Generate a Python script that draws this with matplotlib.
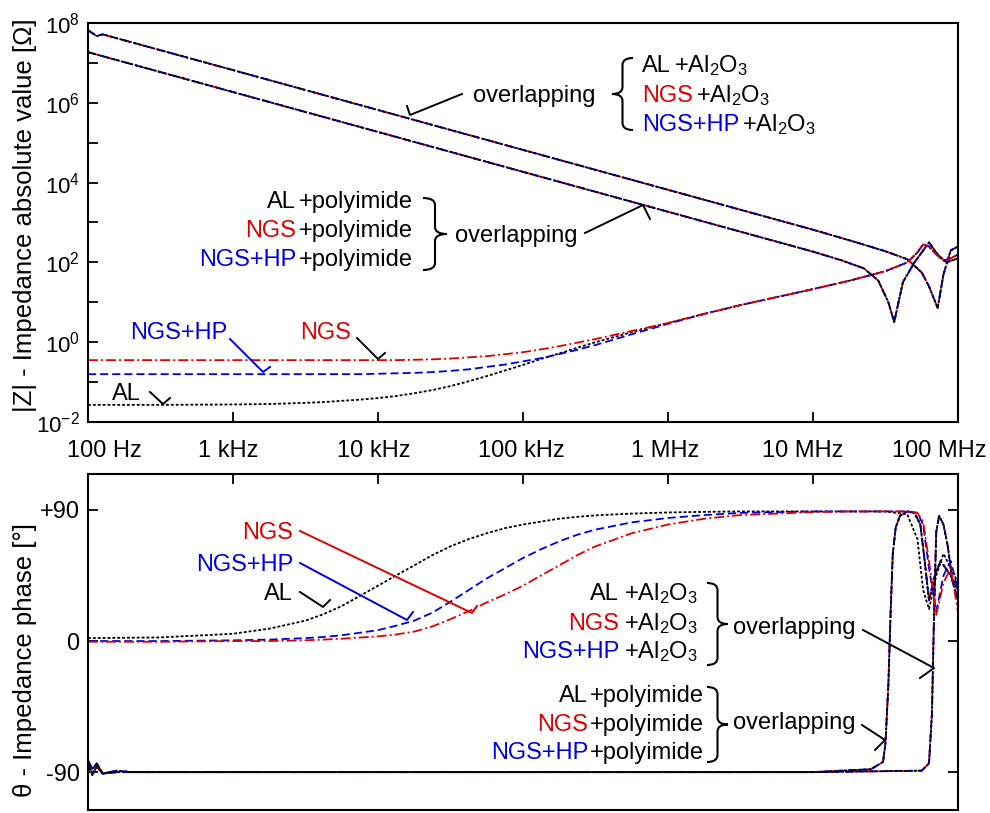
import numpy as np
import matplotlib
matplotlib.use('Agg')
import matplotlib.pyplot as plt
from matplotlib.path import Path
from matplotlib.patches import PathPatch
from matplotlib.lines import Line2D
from matplotlib.ticker import NullLocator

plt.rcParams['font.family'] = ['Liberation Sans', 'DejaVu Sans']
plt.rcParams['mathtext.fontset'] = 'custom'
plt.rcParams['mathtext.rm'] = 'Liberation Sans'
plt.rcParams['mathtext.it'] = 'Liberation Sans:italic'
plt.rcParams['mathtext.bf'] = 'Liberation Sans:bold'
plt.rcParams['mathtext.default'] = 'regular'

RED = '#dd0000'
BLUE = '#0000dd'
FS = 17

# ---------------- data ----------------
# bare electrodes: one frequency grid for |Z| and phase [Hz]
f_bare = [1e2, 3.16e2, 1e3, 1.78e3, 3.16e3, 4.22e3, 5.62e3, 7.5e3, 1e4, 1.33e4,
          1.78e4, 2.37e4, 3.16e4, 4.22e4, 5.62e4, 7.5e4, 1e5, 1.33e5, 1.78e5, 2.37e5,
          3.16e5, 5.62e5, 1e6, 1.78e6, 3.16e6, 1e7, 1.78e7, 3.16e7, 4.47e7, 5.25e7,
          5.75e7, 6.31e7, 7.08e7, 7.94e7, 8.91e7, 1e8]
z_al = [0.0269, 0.0269, 0.0275, 0.0282, 0.0302, 0.0316, 0.0339, 0.0363, 0.0398, 0.0447,
        0.0525, 0.0631, 0.0794, 0.105, 0.141, 0.195, 0.269, 0.380, 0.525, 0.724,
        1.0, 1.78, 3.02, 5.13, 8.51, 21.4, 34.7, 60.3, 100, 178,
        282, 251, 158, 112, 126, 158]
z_ngs = [0.355, 0.355, 0.355, 0.355, 0.355, 0.355, 0.355, 0.355, 0.355, 0.355,
         0.363, 0.372, 0.389, 0.417, 0.447, 0.501, 0.562, 0.661, 0.794, 0.977,
         1.20, 1.91, 3.02, 5.13, 8.51, 21.4, 34.7, 60.3, 100, 178,
         282, 251, 158, 112, 126, 158]
z_ngshp = [0.158, 0.158, 0.158, 0.158, 0.158, 0.158, 0.158, 0.158, 0.162, 0.166,
           0.170, 0.178, 0.191, 0.209, 0.240, 0.275, 0.331, 0.398, 0.501, 0.646,
           0.851, 1.58, 2.88, 5.13, 8.51, 21.4, 34.7, 60.3, 100, 178,
           282, 251, 158, 112, 126, 158]
ph_al = [2, 2.5, 5, 8.5, 14, 18.5, 24, 31, 38, 45,
         52, 59, 65, 70, 74, 77.5, 80, 82, 84, 85.3,
         86.3, 87.5, 88.3, 88.7, 89, 89, 89, 89, 87, 70,
         35, 22, 45, 60, 50, 40]
ph_ngs = [-0.5, -0.5, 0, 0, 0.5, 1, 1.6, 2.4, 3.2, 4.5,
          6.5, 10, 15, 20.5, 26.5, 32, 38, 45, 52, 59,
          65, 74, 80, 84, 86.5, 88.5, 89, 89, 89, 88,
          82, 55, 18, 40, 50, 20]
ph_ngshp = [0, 0, 0.5, 1, 2, 2.8, 4, 5.7, 7.5, 10.5,
            14, 19.5, 27, 35, 43, 50, 57, 63, 68.5, 73,
            76.5, 81.5, 84.5, 86.5, 88, 89, 89, 89, 89, 88,
            80, 50, 20, 45, 55, 35]

# insulated electrodes (AL, NGS, NGS+HP overlap)
f_z_al2o3 = [1e2, 1.15e2, 1.26e2, 1e3, 1e4, 1e5, 1e6, 1e7, 2e7, 3.16e7,
             4.47e7, 5.62e7, 6.31e7, 7.24e7, 7.94e7, 8.91e7, 1e8]
z_al2o3 = [6.6e7, 4.7e7, 5.2e7, 6.6e6, 6.6e5, 6.6e4, 6.6e3, 660, 316, 190,
           120, 56, 25, 7.2, 50, 200, 250]
f_z_pi = [1e2, 1e3, 1e4, 1e5, 1e6, 1e7, 1.58e7, 2.24e7, 2.82e7, 3.31e7,
          3.63e7, 4.17e7, 5.01e7, 6.31e7, 7.24e7, 8.32e7, 1e8]
z_pi = [1.86e7, 1.86e6, 1.86e5, 1.86e4, 1860, 186, 112, 71, 35, 10,
        3.2, 32, 100, 316, 158, 100, 126]

f_ph_al2o3 = [1e2, 1.07e2, 1.15e2, 1.26e2, 1.58e2, 2e2, 1e3, 1e5, 1e7, 5.62e7,
              6.31e7, 6.61e7, 6.84e7, 7.08e7, 7.41e7, 7.94e7, 8.51e7, 9.12e7, 1e8]
ph_al2o3 = [-84, -92, -86, -91, -89, -90, -90, -90, -90, -89,
            -84, -50, 20, 75, 86, 80, 65, 42, 28]
f_ph_pi = [1e2, 1.07e2, 1.15e2, 1.26e2, 1.58e2, 1e3, 1e5, 1e7, 2.51e7, 3.04e7,
           3.16e7, 3.31e7, 3.43e7, 3.55e7, 3.72e7, 3.98e7, 4.47e7, 5.01e7, 5.5e7,
           5.89e7, 6.31e7, 6.92e7, 7.59e7, 8.91e7, 1e8]
ph_pi = [-82, -88, -84, -91, -90, -90, -90, -90, -88, -83,
         -70, -30, 20, 60, 78, 86, 89, 88, 80,
         55, 28, 45, 55, 45, 35]

tick_f = [1e2, 1e3, 1e4, 1e5, 1e6, 1e7, 1e8]
tick_labels = ['100 Hz', '1 kHz', '10 kHz', '100 kHz', '1 MHz', '10 MHz', '100 MHz']
label_shift = [16, -5, -4, -2, -3, -10, -19]   # px, as placed in the original
z_exp = list(range(-2, 9))
ph_ticks = [-90, 0, 90]
ph_labels = ['-90', '0', '+90']

styles = {
    'AL': dict(color='black', ls=(0, (1.6, 1.1)), lw=1.3),
    'NGS': dict(color=RED, ls=(0, (5.5, 1.7, 1.1, 1.7)), lw=1.3),
    'NGS+HP': dict(color=BLUE, ls=(0, (4.5, 2.2)), lw=1.3),
}
colors = {'AL': 'black', 'NGS': RED, 'NGS+HP': BLUE}

W, H = 990, 813
fig = plt.figure(figsize=(W / 100, H / 100), dpi=100)
ax1 = fig.add_axes([88 / W, 1 - 422 / H, 870 / W, 399 / H])
ax2 = fig.add_axes([88 / W, 1 - 810 / H, 870 / W, 336 / H])

# ---------------- top: |Z| ----------------
for name in ['NGS', 'NGS+HP', 'AL']:
    ax1.plot(f_z_al2o3, z_al2o3, **styles[name])
    ax1.plot(f_z_pi, z_pi, **styles[name])
ax1.plot(f_bare, z_al, **styles['AL'])
ax1.plot(f_bare, z_ngshp, **styles['NGS+HP'])
ax1.plot(f_bare, z_ngs, **styles['NGS'])

ax1.set_xscale('log')
ax1.set_yscale('log')
ax1.set_xlim(1e2, 1e8)
ax1.set_ylim(1e-2, 1e8)
ax1.set_xticks(tick_f)
ax1.set_xticklabels([])
ax1.set_yticks([10.0 ** k for k in z_exp])
ax1.set_yticklabels(['$10^{%d}$' % k if k % 2 == 0 else '' for k in z_exp], fontsize=16)
ax1.xaxis.set_minor_locator(NullLocator())
ax1.yaxis.set_minor_locator(NullLocator())
ax1.tick_params(direction='in', length=7, width=1.3, pad=6)
for s in ax1.spines.values():
    s.set_linewidth(1.5)

for f, lab, dx in zip(tick_f, tick_labels, label_shift):
    x, _ = ax1.transData.transform((f, 1))
    fig.text((x + dx) / W, 1 - 457 / H, lab, ha='center', va='baseline', fontsize=FS)

# ---------------- bottom: phase ----------------
for name in ['NGS', 'NGS+HP', 'AL']:
    ax2.plot(f_ph_al2o3, ph_al2o3, **styles[name])
    ax2.plot(f_ph_pi, ph_pi, **styles[name])
ax2.plot(f_bare, ph_al, **styles['AL'])
ax2.plot(f_bare, ph_ngshp, **styles['NGS+HP'])
ax2.plot(f_bare, ph_ngs, **styles['NGS'])

ax2.set_xscale('log')
ax2.set_xlim(1e2, 1e8)
ax2.set_ylim(-116, 114.7)
ax2.set_xticks(tick_f)
ax2.set_xticklabels([])
ax2.xaxis.set_minor_locator(NullLocator())
ax2.set_yticks(ph_ticks)
ax2.set_yticklabels(ph_labels, fontsize=FS)
ax2.tick_params(axis='x', bottom=False, top=True, direction='in', length=7, width=1.3)
ax2.tick_params(axis='y', left=True, right=True, direction='in', length=7, width=1.3, pad=6)
for s in ax2.spines.values():
    s.set_linewidth(1.5)

fig.text(25 / W, 1 - 215 / H, '|Z| - Impedance absolute value [\u03a9]', rotation=90,
         ha='center', va='center', fontsize=18.5)
fig.text(25 / W, 1 - 660 / H, '\u03b8 - Impedance phase [\u00b0]', rotation=90,
         ha='center', va='center', fontsize=18.5)


# ---------------- annotations (pixel positions of the original) ----------------
def txt(x, y, s, color='black', ha='left'):
    return fig.text(x / W, 1 - y / H, s, color=color, ha=ha, va='baseline', fontsize=FS)


def pointer(pts, color='black'):
    fig.add_artist(Line2D([p[0] / W for p in pts], [1 - p[1] / H for p in pts],
                          transform=fig.transFigure, color=color, lw=1.4))


def brace(x0, x1, y0, y1):
    # x0: side of the ends, x1: tip
    xm = (x0 + x1) / 2
    ym = (y0 + y1) / 2
    r = 7
    verts = [(x0, y0), (xm, y0), (xm, y0 + r), (xm, ym - r), (xm, ym), (x1, ym),
             (xm, ym), (xm, ym + r), (xm, y1 - r), (xm, y1), (x0, y1)]
    codes = [Path.MOVETO, Path.CURVE3, Path.CURVE3, Path.LINETO, Path.CURVE3, Path.CURVE3,
             Path.CURVE3, Path.CURVE3, Path.LINETO, Path.CURVE3, Path.CURVE3]
    verts = [(x / W, 1 - y / H) for x, y in verts]
    fig.add_artist(PathPatch(Path(verts, codes), fill=False, lw=1.5,
                             transform=fig.transFigure))


al2o3 = '+Al$_2$O$_3$'
names = ['AL', 'NGS', 'NGS+HP']

# top panel, Al2O3 group (left aligned)
renderer = fig.canvas.get_renderer()
for name, yb in zip(names, [72, 102, 131]):
    t = txt(642, yb, name, colors[name])
    x_end = t.get_window_extent(renderer).x1
    txt(x_end + 3, yb, al2o3)
txt(473, 102, 'overlapping')
brace(633, 612, 58, 130)
pointer([(462, 94), (410, 115), (407, 106)])

# top panel, polyimide group (right aligned)
for name, yb in zip(names, [208, 237, 266]):
    txt(296, yb, name, colors[name], ha='right')
    txt(299, yb, '+polyimide')
brace(423, 447, 198, 270)
txt(455, 242, 'overlapping')
pointer([(585, 233), (643, 205), (650, 219)])

# top panel, bare electrodes
txt(300, 339, 'NGS', RED)
pointer([(357, 338), (378, 359), (385, 353)])
txt(130, 339, 'NGS+HP', BLUE)
pointer([(230, 339), (263, 372), (270, 367)], BLUE)
txt(112, 400, 'AL')
pointer([(150, 392), (163, 404), (170, 398)])

# bottom panel, bare electrodes
txt(293, 539, 'NGS', RED, ha='right')
pointer([(300, 531), (472, 613), (477, 606)], RED)
txt(293, 571, 'NGS+HP', BLUE, ha='right')
pointer([(300, 563), (407, 620), (413, 612)], BLUE)
txt(293, 600, 'AL', ha='right')
pointer([(300, 592), (323, 607), (330, 600)])

# bottom panel, Al2O3 group
for name, yb in zip(names, [600, 630, 658]):
    txt(619, yb, name, colors[name], ha='right')
    txt(624, yb, al2o3)
brace(707, 728, 583, 665)
txt(733, 634, 'overlapping')
pointer([(863, 630), (934, 668), (920, 678)])

# bottom panel, polyimide group
for name, yb in zip(names, [702, 731, 759]):
    txt(588, yb, name, colors[name], ha='right')
    txt(590, yb, '+polyimide')
brace(707, 728, 687, 762)
txt(733, 729, 'overlapping')
pointer([(862, 725), (885, 740), (875, 750)])

fig.savefig('out.png', dpi=100)
